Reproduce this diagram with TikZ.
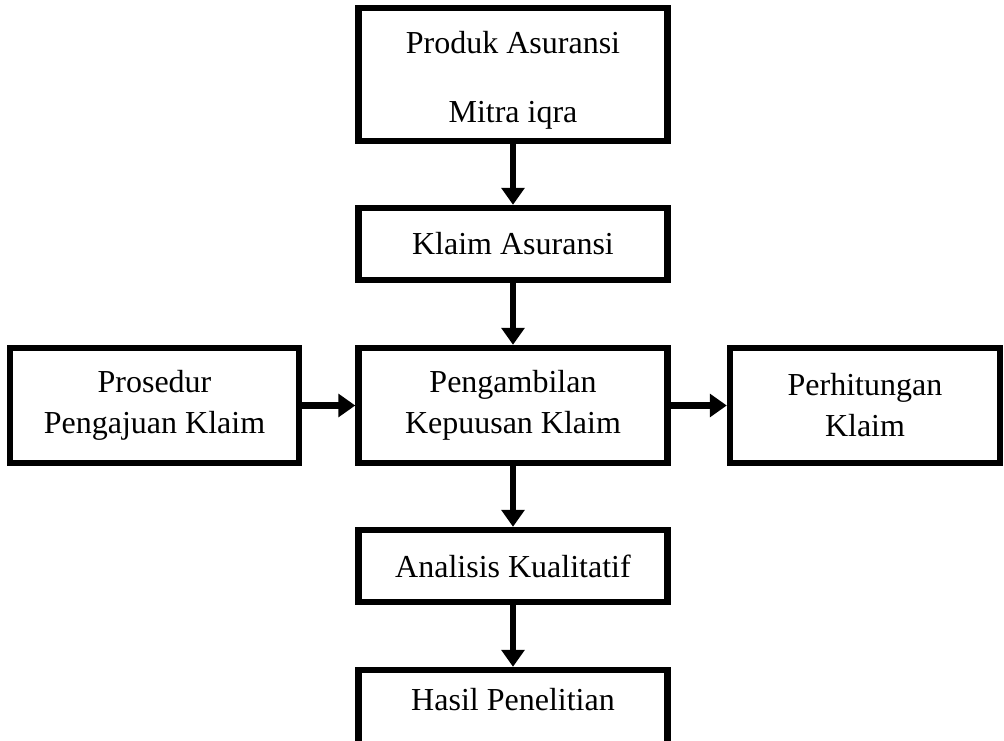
\documentclass[tikz,border=0pt]{standalone}
\usepackage{fontspec}
\setmainfont{Liberation Serif}
\usetikzlibrary{arrows.meta}
\begin{document}
\begin{tikzpicture}[x=0.75pt,y=-0.75pt,
  box/.style={draw,line width=4.8pt,rectangle,inner sep=0pt,align=center,
    font=\fontsize{24}{30.75}\selectfont},
  arr/.style={line width=5.2pt,-{Triangle[length=12.75pt,width=17pt]}}]
\useasboundingbox (0,0) rectangle (1004,741);
\node[box,minimum width=231.75pt,minimum height=99.75pt] (top) at (513,74.5)
  {\rule{0pt}{24.75pt}Produk Asuransi\\[21pt]Mitra iqra};
\node[box,minimum width=231.75pt,minimum height=54pt] (klaim) at (513,244) {Klaim Asuransi};
\node[box,minimum width=231.75pt,minimum height=86.25pt] (mid) at (513,405.5) {Pengambilan\\Kepuusan Klaim};
\node[box,minimum width=216.75pt,minimum height=86.25pt] (pros) at (154.5,405.5) {Prosedur\\Pengajuan Klaim};
\node[box,minimum width=202.5pt,minimum height=86.25pt] (perh) at (865,405.5) {Perhitungan\\Klaim};
\node[box,minimum width=231.75pt,minimum height=54pt] (anal) at (513,566) {Analisis Kualitatif};
\node[box,minimum width=231.75pt,minimum height=60pt] (hasil) at (513,710)
  {Hasil Penelitian\rule[-16.5pt]{0pt}{0pt}};
\draw[arr] (top) -- (klaim);
\draw[arr] (klaim) -- (mid);
\draw[arr] (pros) -- (mid);
\draw[arr] (mid) -- (perh);
\draw[arr] (mid) -- (anal);
\draw[arr] (anal) -- (hasil);
\end{tikzpicture}
\end{document}
